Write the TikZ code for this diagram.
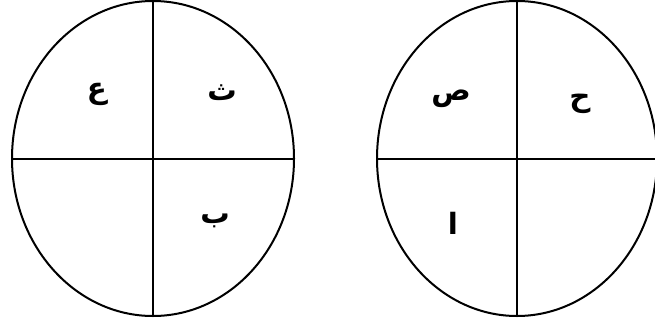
\documentclass[tikz,border=0pt]{standalone}
\usepackage{fontspec}
\newfontfamily\arabicfont[Script=Arabic]{DejaVu Sans}
\TeXXeTstate=1
\begin{document}
\begin{tikzpicture}[x=0.75pt, y=-0.75pt, line width=1.5pt,
	harf/.style={font=\arabicfont\bfseries\fontsize{22}{26}\selectfont, inner sep=0pt}]
	\useasboundingbox (0,0) rectangle (655,328);
	\coordinate (L) at (153, 158.5);
	\coordinate (R) at (517, 158.5);
	% left circle
	\draw (L) ellipse [x radius=141, y radius=157.5];
	\draw ([yshift=-157.5*0.75pt]L) -- ([yshift=157.5*0.75pt]L);
	\draw ([xshift=-141*0.75pt]L) -- ([xshift=141*0.75pt]L);
	\node[harf] (ayn) at (97, 94) {\beginR ع\endR};
	\node[harf] (tha) at (222, 93) {\beginR ث\endR};
	\node[harf] (ba) at (215, 221) {\beginR ب\endR};
	% right circle
	\draw (R) ellipse [x radius=140, y radius=157.5];
	\draw ([yshift=-157.5*0.75pt]R) -- ([yshift=157.5*0.75pt]R);
	\draw ([xshift=-140*0.75pt]R) -- ([xshift=140*0.75pt]R);
	\node[harf] (sad) at (451, 99) {\beginR ص\endR};
	\node[harf] (ha) at (580, 104) {\beginR ح\endR};
	\node[harf] (alif) at (453, 223) {\beginR ا\endR};
\end{tikzpicture}
\end{document}
